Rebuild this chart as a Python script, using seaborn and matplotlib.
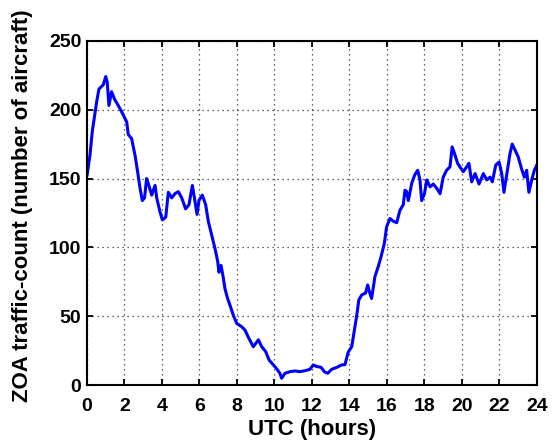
import matplotlib
matplotlib.use("Agg")
import matplotlib.pyplot as plt
import seaborn as sns
import pandas as pd

# Data
hours = [0.0, 0.16, 0.28, 0.52, 0.64, 0.87, 1.0, 1.08, 1.17, 1.31, 1.49, 1.67, 1.94,
         2.12, 2.2, 2.38, 2.56, 2.7, 2.83, 2.95, 3.07, 3.18, 3.3, 3.45, 3.63, 3.72,
         3.89, 4.02, 4.2, 4.34, 4.52, 4.69, 4.87, 5.05, 5.26, 5.44, 5.62, 5.73, 5.87,
         5.97, 6.15, 6.33, 6.47, 6.65, 6.83, 6.97, 7.04, 7.15, 7.27, 7.36, 7.5, 7.63,
         7.8, 7.98, 8.25, 8.43, 8.6, 8.87, 9.14, 9.32, 9.53, 9.71, 9.94, 10.1, 10.29,
         10.38, 10.56, 10.83, 11.09, 11.36, 11.63, 11.89, 12.07, 12.25, 12.48, 12.66,
         12.84, 13.05, 13.32, 13.58, 13.76, 13.93, 14.12, 14.26, 14.38, 14.5, 14.65,
         14.86, 14.97, 15.06, 15.18, 15.36, 15.53, 15.68, 15.86, 15.98, 16.16, 16.34,
         16.52, 16.69, 16.87, 16.96, 17.05, 17.14, 17.32, 17.48, 17.64, 17.76, 17.85,
         18.0, 18.12, 18.3, 18.47, 18.65, 18.83, 19.0, 19.18, 19.36, 19.48, 19.63,
         19.77, 19.89, 20.07, 20.25, 20.37, 20.52, 20.7, 20.91, 21.14, 21.32, 21.5,
         21.62, 21.8, 21.98, 22.12, 22.24, 22.38, 22.56, 22.68, 22.83, 23.0, 23.18,
         23.33, 23.45, 23.57, 23.72, 23.86, 24.0]
counts = [152, 167, 184, 206, 215, 218, 224, 220, 203, 213, 207, 203, 196,
          191, 182, 179, 167, 155, 143, 134, 136, 150, 145, 138, 145, 136,
          126, 120, 122, 140, 136, 139, 140.5, 136, 128, 131, 145, 136, 124,
          134, 138, 131, 119, 109, 99, 90, 82, 87, 78, 70, 63, 58,
          51, 45, 42.5, 40, 35, 28, 33, 28, 24.5, 18.4, 14.8, 12.3, 8.7,
          5.1, 8.7, 9.9, 10.4, 9.9, 10.6, 11.6, 14.8, 13.6, 13.1, 9.9,
          8.7, 11.6, 13, 14.8, 15, 24, 28, 40, 50, 62, 65.5,
          67, 72.8, 68, 63, 79, 86, 93, 103, 115, 121, 119,
          118, 127, 131, 141.5, 140.5, 134, 146.6, 152.6, 156, 149, 134,
          139, 149, 144, 146, 143, 139, 151, 156, 158.5, 173, 167,
          161, 158.5, 155, 158.5, 161, 147.6, 153.6, 146, 153.6, 149, 151,
          147.6, 159.7, 162, 153.6, 140, 152.4, 168, 175, 170.6, 165.7, 157,
          151, 156, 140, 149, 156, 160]
x_ticks = list(range(0, 25, 2))
y_ticks = [0, 50, 100, 150, 200, 250]
x_label = "UTC (hours)"
y_label = "ZOA traffic-count (number of aircraft)"

sns.set_theme(style="white")
plt.rcParams['font.family'] = ['Liberation Sans', 'DejaVu Sans']
plt.rcParams['font.weight'] = 'bold'

df = pd.DataFrame({"hours": hours, "count": counts})

fig = plt.figure(figsize=(5.53, 4.40), dpi=100)
ax = fig.add_axes([0.1573, 0.1243, 0.8137, 0.7832])

sns.lineplot(data=df, x="hours", y="count", ax=ax, color="#0000ff",
             linewidth=2.2, estimator=None, sort=False)

ax.set_xlim(0, 24)
ax.set_ylim(0, 250)
ax.set_xticks(x_ticks)
ax.set_yticks(y_ticks)
ax.set_xticklabels([str(t) for t in x_ticks], fontsize=14, fontweight='bold')
ax.set_yticklabels([str(t) for t in y_ticks], fontsize=14, fontweight='bold')

ax.grid(True, color="#333333", linestyle=(0, (1, 3)), linewidth=0.9)
ax.tick_params(direction='in', length=4, width=1.3, colors='black',
               top=True, right=True, bottom=True, left=True)
ax.tick_params(axis='x', pad=9)
ax.tick_params(axis='y', pad=4)

for s in ax.spines.values():
    s.set_visible(True)
    s.set_color('black')
    s.set_linewidth(1.5)

ax.set_xlabel(x_label, fontsize=16, fontweight='bold', color='black', labelpad=3)
ax.set_ylabel(y_label, fontsize=16, fontweight='bold', color='black')
ax.yaxis.set_label_coords(-0.12, 0.52)

fig.savefig("out.png", dpi=100, facecolor='white')
